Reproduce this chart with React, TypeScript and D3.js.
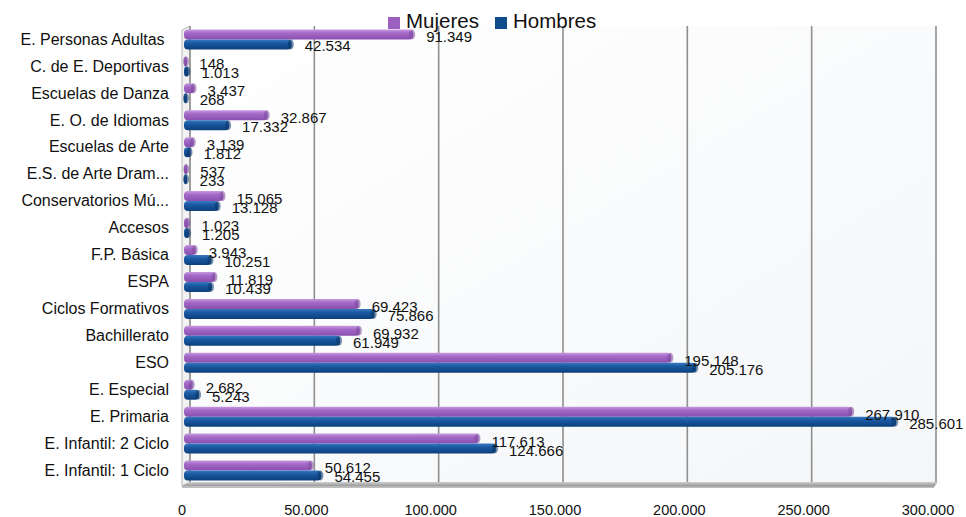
import React from "react";
import * as d3 from "d3";

const categories = [
  "E. Personas Adultas ",
  "C. de E. Deportivas",
  "Escuelas de Danza",
  "E. O. de Idiomas",
  "Escuelas de Arte",
  "E.S. de Arte Dram...",
  "Conservatorios Mú...",
  "Accesos",
  "F.P. Básica",
  "ESPA",
  "Ciclos Formativos",
  "Bachillerato",
  "ESO",
  "E. Especial",
  "E. Primaria",
  "E. Infantil: 2 Ciclo",
  "E. Infantil: 1 Ciclo",
];
const mujeres = [91349, 148, 3437, 32867, 3139, 537, 15065, 1023, 3943, 11819, 69423, 69932, 195148, 2682, 267910, 117613, 50612];
const hombres = [42534, 1013, 268, 17332, 1812, 233, 13128, 1205, 10251, 10439, 75866, 61949, 205176, 5243, 285601, 124666, 54455];
const xTicks = [0, 50000, 100000, 150000, 200000, 250000, 300000];
const seriesNames = ["Mujeres", "Hombres"];

const W = 966;
const H = 517;
const FONT = "'Liberation Sans', Arial, sans-serif";

const fmt = (v: number) => {
  const s = String(v);
  return s.replace(/\B(?=(\d{3})+(?!\d))/g, ".");
};

export default function App() {
  const x = d3.scaleLinear().domain([0, 300000]).range([184, 930]);
  const y = d3.scaleBand<string>().domain(categories).range([27, 485]);
  const depth = 6;
  const plotTop = 26;
  const floorY = 482;

  return (
    <svg width={W} height={H} style={{ position: "absolute", left: 0, top: 0, background: "#fff" }}>
      <defs>
        <linearGradient id="gp" x1="0" y1="0" x2="0" y2="1">
          <stop offset="0" stopColor="#c79ae0" />
          <stop offset="0.35" stopColor="#a569c8" />
          <stop offset="1" stopColor="#8a4fae" />
        </linearGradient>
        <linearGradient id="gb" x1="0" y1="0" x2="0" y2="1">
          <stop offset="0" stopColor="#3a78c0" />
          <stop offset="0.35" stopColor="#1a5aa2" />
          <stop offset="1" stopColor="#0c3f7c" />
        </linearGradient>
        <linearGradient id="wall" x1="0" y1="0" x2="1" y2="1">
          <stop offset="0" stopColor="#ffffff" />
          <stop offset="1" stopColor="#f4f6f8" />
        </linearGradient>
        <linearGradient id="floor" x1="0" y1="0" x2="0" y2="1">
          <stop offset="0" stopColor="#cfcfcf" />
          <stop offset="1" stopColor="#8c8c8c" />
        </linearGradient>
      </defs>

      {/* back wall */}
      <rect x={x(0) + depth} y={plotTop} width={x(300000) - x(0)} height={floorY - plotTop} fill="url(#wall)" />
      {/* left wall */}
      <polygon
        points={`${x(0) - 2},${plotTop + 4} ${x(0) + depth},${plotTop} ${x(0) + depth},${floorY} ${x(0) - 2},${floorY + 4}`}
        fill="#f2f2f2"
        stroke="#b5b5b5"
        strokeWidth={1}
      />
      {/* gridlines */}
      {xTicks.map((t) => (
        <line
          key={"g" + t}
          x1={x(t) + depth}
          x2={x(t) + depth}
          y1={plotTop}
          y2={floorY}
          stroke="#8f8f8f"
          strokeWidth={1.6}
        />
      ))}
      {/* floor */}
      <polygon
        points={`${x(0) - 2},${floorY + 4} ${x(0) + depth},${floorY} ${x(300000) + depth + 2},${floorY} ${x(300000) + depth - 2},${floorY + 5}`}
        fill="url(#floor)"
      />
      <line x1={x(0) - 2} x2={x(300000) + depth - 2} y1={floorY + 5} y2={floorY + 5} stroke="#a8a8a8" strokeWidth={1.5} />

      {/* bars */}
      {categories.map((c, i) => {
        const cy = (y(c) as number) + y.bandwidth() / 2;
        const bars = [
          { v: mujeres[i], y0: cy - 11, h: 10, fill: "url(#gp)", cap: "#7d4a9c" },
          { v: hombres[i], y0: cy - 1, h: 10, fill: "url(#gb)", cap: "#0a3566" },
        ];
        return (
          <g key={c}>
            {bars.map((b, j) => {
              const x1 = x(b.v) + 2;
              return (
                <g key={j}>
                  <rect x={x(0)} y={b.y0} width={Math.max(x1 - x(0), 3)} height={b.h} rx={4} ry={4} fill={b.fill} />
                  <ellipse cx={Math.max(x1, x(0) + 3) - 1} cy={b.y0 + b.h / 2} rx={3} ry={b.h / 2} fill={b.cap} opacity={0.55} />
                </g>
              );
            })}
          </g>
        );
      })}

      {/* value labels */}
      {categories.map((c, i) => {
        const cy = (y(c) as number) + y.bandwidth() / 2;
        return (
          <g key={"l" + c} fontFamily={FONT} fontSize={15} fill="#111">
            <text x={x(mujeres[i]) + 15} y={cy - 2} dominantBaseline="middle">{fmt(mujeres[i])}</text>
            <text x={x(hombres[i]) + 15} y={cy + 7} dominantBaseline="middle">{fmt(hombres[i])}</text>
          </g>
        );
      })}

      {/* category labels */}
      {categories.map((c) => {
        const cy = (y(c) as number) + y.bandwidth() / 2;
        return (
          <text key={"c" + c} x={169} y={cy} textAnchor="end" dominantBaseline="middle" fontFamily={FONT} fontSize={16} fill="#111" xmlSpace="preserve">
            {c}
          </text>
        );
      })}

      {/* x ticks */}
      {xTicks.map((t) => (
        <text key={"t" + t} x={x(t) - 2} y={511} textAnchor="middle" dominantBaseline="middle" fontFamily={FONT} fontSize={14.5} fill="#111">
          {fmt(t)}
        </text>
      ))}

      {/* legend */}
      <g fontFamily={FONT} fontSize={20.5} fill="#111">
        <rect x={388} y={17} width={12} height={12} fill="#9b5fc0" />
        <text x={406} y={23} dominantBaseline="middle">{seriesNames[0]}</text>
        <rect x={495} y={17} width={12} height={12} fill="#0f4c8c" />
        <text x={513} y={23} dominantBaseline="middle">{seriesNames[1]}</text>
      </g>
    </svg>
  );
}
